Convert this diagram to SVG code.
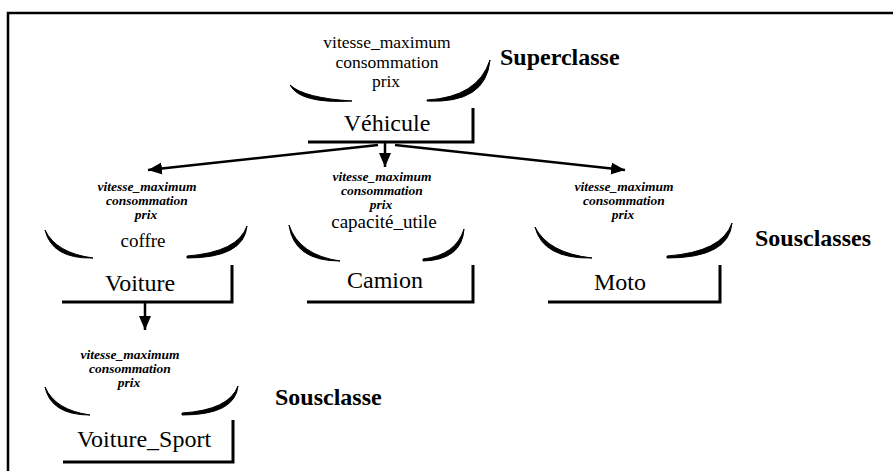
<svg xmlns="http://www.w3.org/2000/svg" width="893" height="471" viewBox="0 0 893 471">
  <defs>
    <style>
      .frame { fill: none; stroke: #000; stroke-width: 2.5; }
      .arc { fill: #000; stroke: #000; stroke-width: 1; stroke-linejoin: round; }
      .box { fill: none; stroke: #000; stroke-width: 3; }
      .attr { font-family: "Liberation Serif", "Times New Roman", serif; font-size: 17.5px; text-anchor: middle; fill: #000; }
      .own { font-family: "Liberation Serif", "Times New Roman", serif; font-size: 19px; text-anchor: middle; fill: #000; }
      .inh { font-family: "Liberation Serif", "Times New Roman", serif; font-size: 13.5px; font-style: italic; font-weight: bold; text-anchor: middle; fill: #000; }
      .cls { font-family: "Liberation Serif", "Times New Roman", serif; font-size: 24px; text-anchor: middle; fill: #000; }
      .lbl { font-family: "Liberation Serif", "Times New Roman", serif; font-size: 24px; font-weight: bold; fill: #000; }
      .conn { fill: none; stroke: #000; stroke-width: 2.5; }
    </style>
    <marker id="head" markerUnits="userSpaceOnUse" markerWidth="16" markerHeight="14" refX="14" refY="7" orient="auto">
      <path d="M0,1 L14,7 L0,13 Z" fill="#000"/>
    </marker>
  </defs>

  <rect width="893" height="471" fill="#fff"/>

  <!-- page frame: top and left rules -->
  <path class="frame" d="M8,471 L8,13 L893,13"/>

  <!-- superclass -->
  <g id="vehicule">
    <text class="attr" x="387" y="48">vitesse_maximum</text>
    <text class="attr" x="387" y="67.5">consommation</text>
    <text class="attr" x="386" y="87">prix</text>
    <path class="arc" d="M290,85 Q300,104 352,101 Q304,98 290,85 Z"/>
    <path class="arc" d="M427,101 Q486,104 490,60 Q478,97 427,100 Z"/>
    <text class="cls" x="387" y="131">Véhicule</text>
    <path class="box" d="M308,142 L473,142 L473,108"/>
  </g>

  <g id="label-superclasse">
    <text class="lbl" x="500" y="65">Superclasse</text>
  </g>

  <!-- subclasses -->
  <g id="voiture">
    <text class="inh" x="147" y="191">vitesse_maximum</text>
    <text class="inh" x="147" y="205">consommation</text>
    <text class="inh" x="146" y="219">prix</text>
    <text class="own" x="143" y="247">coffre</text>
    <path class="arc" d="M45,230 Q52,259 93,258 Q56,253 45,230 Z"/>
    <path class="arc" d="M187,258 Q244,258 247,226 Q238,252 187,256 Z"/>
    <text class="cls" x="140" y="291">Voiture</text>
    <path class="box" d="M62,302 L232,302 L232,265"/>
  </g>

  <g id="camion">
    <text class="inh" x="382" y="181">vitesse_maximum</text>
    <text class="inh" x="382" y="195">consommation</text>
    <text class="inh" x="381" y="209">prix</text>
    <text class="own" x="384" y="228">capacité_utile</text>
    <path class="arc" d="M289,225 Q294,261 340,261 Q299,255 289,225 Z"/>
    <path class="arc" d="M423,261 Q462,260 464,229 Q456,255 423,259 Z"/>
    <text class="cls" x="385" y="288">Camion</text>
    <path class="box" d="M307,302 L473,302 L473,265"/>
  </g>

  <g id="moto">
    <text class="inh" x="624" y="191">vitesse_maximum</text>
    <text class="inh" x="624" y="205">consommation</text>
    <text class="inh" x="623" y="219">prix</text>
    <path class="arc" d="M535,227 Q543,259 592,258 Q548,253 535,227 Z"/>
    <path class="arc" d="M667,258 Q729,258 732,223 Q722,252 667,256 Z"/>
    <text class="cls" x="620" y="290">Moto</text>
    <path class="box" d="M548,302 L720,302 L720,265"/>
  </g>

  <g id="label-sousclasses">
    <text class="lbl" x="755" y="246">Sousclasses</text>
  </g>

  <!-- sub-subclass -->
  <g id="voiture-sport">
    <text class="inh" x="130" y="359">vitesse_maximum</text>
    <text class="inh" x="130" y="373">consommation</text>
    <text class="inh" x="129" y="387">prix</text>
    <path class="arc" d="M45,387 Q51,415 90,415 Q55,410 45,387 Z"/>
    <path class="arc" d="M182,415 Q235,415 238,386 Q229,410 182,413 Z"/>
    <text class="cls" x="144" y="447">Voiture_Sport</text>
    <path class="box" d="M63,462 L233,462 L233,420"/>
  </g>

  <g id="label-sousclasse">
    <text class="lbl" x="275" y="405">Sousclasse</text>
  </g>

  <!-- inheritance arrows -->
  <g id="connectors">
    <line class="conn" x1="378" y1="145" x2="148" y2="170" marker-end="url(#head)"/>
    <line class="conn" x1="385" y1="142" x2="385" y2="167" marker-end="url(#head)"/>
    <line class="conn" x1="395" y1="145" x2="625" y2="170" marker-end="url(#head)"/>
    <line class="conn" x1="145" y1="302" x2="145" y2="330" marker-end="url(#head)"/>
  </g>
</svg>
